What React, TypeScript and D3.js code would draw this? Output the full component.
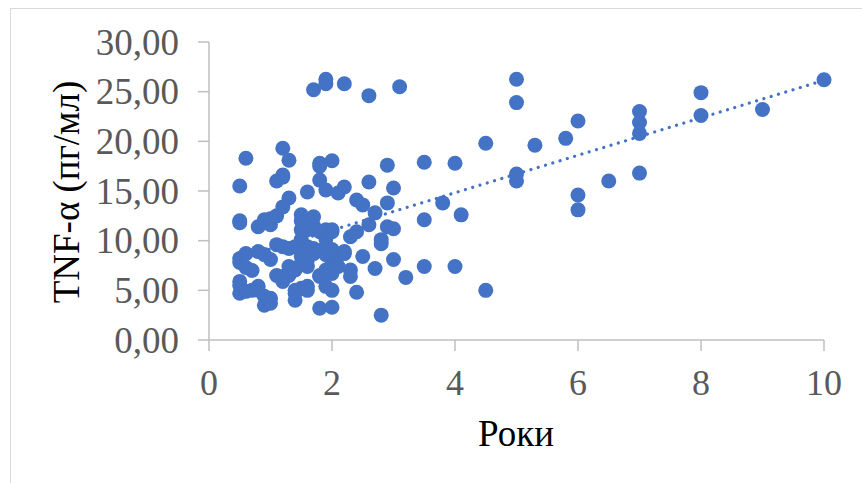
import React from "react";
import * as d3 from "d3";

const years: number[] = [
  0.5, 0.5, 0.5, 0.5, 0.5, 0.5, 0.5, 0.5,
  0.6, 0.6, 0.6, 0.6,
  0.7, 0.7,
  0.8, 0.8, 0.8, 0.8,
  0.9, 0.9, 0.9, 0.9,
  1.0, 1.0, 1.0, 1.0, 1.0,
  1.1, 1.1, 1.1, 1.1,
  1.2, 1.2, 1.2, 1.2, 1.2, 1.2, 1.2,
  1.3, 1.3, 1.3, 1.3, 1.3,
  1.4, 1.4, 1.4, 1.4, 1.4,
  1.5, 1.5, 1.5, 1.5, 1.5, 1.5, 1.5,
  1.6, 1.6, 1.6, 1.6, 1.6, 1.6, 1.6,
  1.7, 1.7, 1.7, 1.7, 1.7,
  1.8, 1.8, 1.8, 1.8, 1.8, 1.8, 1.8, 1.8,
  1.9, 1.9, 1.9, 1.9, 1.9, 1.9, 1.9, 1.9, 1.9,
  2.0, 2.0, 2.0, 2.0, 2.0, 2.0, 2.0, 2.0, 2.0,
  2.1, 2.1, 2.1,
  2.2, 2.2, 2.2, 2.2,
  2.3, 2.3, 2.3,
  2.4, 2.4, 2.4,
  2.5, 2.5,
  2.6, 2.6, 2.6,
  2.7, 2.7,
  2.8, 2.8, 2.8,
  2.9, 2.9, 2.9,
  3.0, 3.0, 3.0,
  3.1,
  3.2,
  3.5, 3.5, 3.5,
  3.8,
  4.0, 4.0,
  4.1,
  4.5, 4.5,
  5.0, 5.0, 5.0, 5.0,
  5.3,
  5.8,
  6.0, 6.0, 6.0,
  6.5,
  7.0, 7.0, 7.0, 7.0,
  8.0, 8.0,
  9.0,
  10.0,
];

const tnf: number[] = [
  15.5, 12.0, 11.8, 8.2, 7.8, 5.9, 5.5, 4.7,
  18.3, 8.7, 7.3, 4.9,
  7.0, 5.0,
  11.4, 8.9, 5.4, 5.0,
  12.1, 8.6, 4.4, 3.5,
  11.6, 8.1, 4.2, 3.7, 12.2,
  16.0, 12.5, 9.6, 6.5,
  19.3, 16.4, 16.6, 13.4, 5.9, 9.4, 6.4,
  18.1, 14.3, 9.2, 6.5, 7.4,
  9.4, 5.0, 4.7, 4.0, 7.05,
  12.6, 11.1, 10.1, 7.7, 8.4, 5.2, 12.0,
  14.9, 11.1, 9.4, 8.05, 7.4, 5.4, 5.0,
  25.2, 12.4, 11.5, 8.7, 9.2,
  17.8, 17.5, 16.1, 10.9, 6.4, 6.5, 3.2, 9.0,
  26.25, 25.8, 15.1, 10.2, 9.1, 8.6, 7.05, 5.4, 11.1,
  18.05, 11.1, 10.9, 7.9, 7.05, 6.7, 5.0, 3.3, 9.1,
  14.8, 8.6, 7.4,
  25.8, 15.4, 8.9, 8.7,
  10.4, 7.05, 6.4,
  14.1, 10.9, 4.8,
  13.6, 8.4,
  24.6, 15.9, 11.6,
  12.8, 7.2,
  9.7, 10.1, 2.5,
  17.6, 13.8, 11.4,
  15.3, 11.2, 8.1,
  25.5,
  6.3,
  17.9, 12.1, 7.4,
  13.8,
  17.8, 7.4,
  12.6,
  19.8, 5.0,
  26.25, 23.9, 16.7, 16.0,
  19.6,
  20.3,
  22.05, 14.6, 13.1,
  16.0,
  23.0, 21.9, 20.8, 16.8,
  24.9, 22.6,
  23.2,
  26.2,
];

const xTicks: number[] = [0, 2, 4, 6, 8, 10];
const yTicks: number[] = [0, 5, 10, 15, 20, 25, 30];
const trendSlope = 1.886;
const trendIntercept = 7.28;
const xTitle = "Роки";
const yTitle = "TNF-α (пг/мл)";

export default function App() {
  const W = 862;
  const H = 483;
  const left = 209;
  const right = 824;
  const top = 42;
  const bottom = 340;
  const x = d3.scaleLinear().domain([0, 10]).range([left, right]);
  const y = d3.scaleLinear().domain([0, 30]).range([bottom, top]);
  const color = "#4472C4";
  const axisColor = "#BFBFBF";
  const font = "'Liberation Serif', 'Times New Roman', serif";
  const fmt = (v: number) => v.toFixed(2).replace(".", ",");

  const xMin = d3.min(years) as number;
  const xMax = d3.max(years) as number;
  const line = d3
    .line<number>()
    .x((d) => x(d))
    .y((d) => y(trendSlope * d + trendIntercept));

  return (
    <svg
      width={W}
      height={H}
      style={{ position: "absolute", left: 0, top: 0, background: "#fff" }}
    >
      <rect x={10.5} y={8.5} width={W} height={H} fill="#fff" stroke="#D9D9D9" strokeWidth={1} />
      <line x1={left} x2={left} y1={top} y2={bottom} stroke={axisColor} strokeWidth={1.5} />
      <line x1={left} x2={right} y1={bottom} y2={bottom} stroke={axisColor} strokeWidth={1.5} />
      {yTicks.map((t) => (
        <g key={"y" + t}>
          <line x1={left - 11} x2={left} y1={y(t)} y2={y(t)} stroke={axisColor} strokeWidth={1.5} />
          <text
            x={179}
            y={y(t)}
            dy="0.34em"
            textAnchor="end"
            fontFamily={font}
            fontSize={37}
            fill="#595959"
          >
            {fmt(t)}
          </text>
        </g>
      ))}
      {xTicks.map((t) => (
        <g key={"x" + t}>
          <line x1={x(t)} x2={x(t)} y1={bottom} y2={bottom + 11} stroke={axisColor} strokeWidth={1.5} />
          <text
            x={x(t)}
            y={395}
            textAnchor="middle"
            fontFamily={font}
            fontSize={36}
            fill="#595959"
          >
            {t}
          </text>
        </g>
      ))}
      {years.map((v, i) => (
        <circle key={i} cx={x(v)} cy={y(tnf[i])} r={7.5} fill={color} />
      ))}
      <path
        d={line([xMin, xMax]) || ""}
        fill="none"
        stroke={color}
        strokeWidth={3.2}
        strokeLinecap="round"
        strokeDasharray="0.01 7.6"
      />
      <text
        x={516}
        y={446}
        textAnchor="middle"
        fontFamily={font}
        fontSize={37}
        fill="#000"
      >
        {xTitle}
      </text>
      <text
        transform={`translate(79, 192) rotate(-90)`}
        textAnchor="middle"
        fontFamily={font}
        fontSize={37}
        fill="#000"
      >
        {yTitle}
      </text>
    </svg>
  );
}
